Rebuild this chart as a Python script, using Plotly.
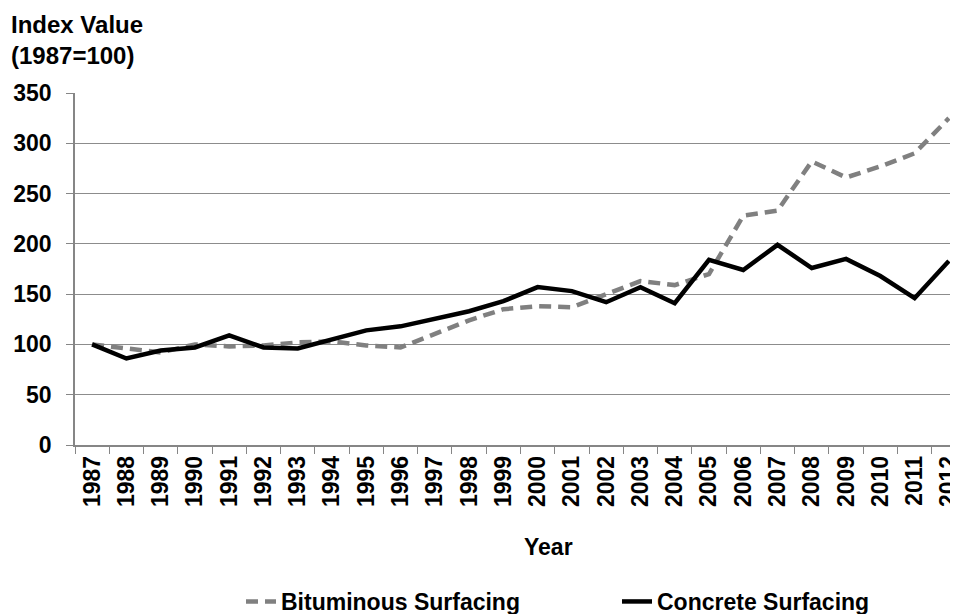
import plotly.graph_objects as go

years = [str(y) for y in range(1987, 2013)]
bituminous = [100, 96, 92, 100, 98, 99, 102, 103, 99, 97, 110, 124, 135, 138, 137, 150,
              163, 159, 170, 228, 233, 282, 266, 277, 290, 325]
concrete = [100, 86, 94, 97, 109, 97, 96, 105, 114, 118, 126, 133, 143, 157, 153, 142,
            157, 141, 184, 174, 199, 176, 185, 168, 146, 183]
y_ticks = [0, 50, 100, 150, 200, 250, 300, 350]

# the page body adds an 8px offset; figure coordinates below are photo coords minus 8
W, H = 958, 614
ml, mr, mt, mb = 67, 0, 85, 177
PW, PH = W - ml - mr, H - mt - mb

FONT = "Liberation Sans, Arial, sans-serif"
BOLD = dict(family=FONT, size=23, color="black", weight="bold")
BOLD24 = dict(family=FONT, size=24, color="black", weight="bold")

fig = go.Figure()
fig.add_trace(go.Scatter(x=years, y=bituminous, mode="lines", name="Bituminous Surfacing",
                         line=dict(color="#808080", width=4.5, dash="12px,7px")))
fig.add_trace(go.Scatter(x=years, y=concrete, mode="lines", name="Concrete Surfacing",
                         line=dict(color="#000000", width=4.5)))

fig.update_layout(
    width=W, height=H,
    margin=dict(l=ml, r=mr, t=mt, b=mb, autoexpand=False),
    paper_bgcolor="white", plot_bgcolor="white",
    font=BOLD,
    showlegend=True,
    legend=dict(orientation="h", x=(233 - ml) / PW, xanchor="left",
                y=-(572 - mt - PH) / PH, yanchor="top",
                font=BOLD, entrywidth=331, entrywidthmode="pixels",
                tracegroupgap=0, bgcolor="rgba(0,0,0,0)"),
    xaxis=dict(type="category", range=[-0.5, 25.5], automargin=False,
               tickangle=-90, tickfont=BOLD,
               showline=True, linecolor="#868686", linewidth=1.5,
               ticks="outside", tickson="boundaries", ticklen=7, tickcolor="#868686",
               showgrid=False),
    yaxis=dict(range=[0, 350], tickvals=y_ticks, automargin=False,
               tickfont=BOLD,
               showline=True, linecolor="#868686", linewidth=1.5,
               ticks="outside", ticklen=7, tickcolor="#868686", ticklabelstandoff=10,
               showgrid=True, gridcolor="#8c8c8c", gridwidth=1.2, zeroline=False),
)

fig.add_annotation(text="Index Value<br>(1987=100)", xref="paper", yref="paper",
                   x=(1 - ml) / PW, y=1 + (mt - 1) / PH,
                   xanchor="left", yanchor="top", align="left", showarrow=False,
                   font=BOLD24)
fig.add_annotation(text="Year", xref="paper", yref="paper",
                   x=(540 - ml) / PW, y=-(539 - mt - PH) / PH,
                   xanchor="center", yanchor="middle", showarrow=False,
                   font=BOLD)

fig.write_html("out.html")
